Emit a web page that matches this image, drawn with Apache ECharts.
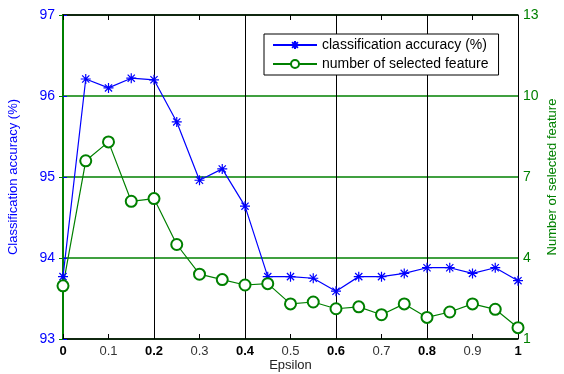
<!DOCTYPE html>
<html><head><meta charset="utf-8">
<script src="https://cdn.jsdelivr.net/npm/echarts@6/dist/echarts.min.js"></script>
<style>html,body{margin:0;padding:0;background:#fff}#c{width:564px;height:374px}</style>
</head><body><div id="c"></div>
<script>
var epsilon = [0,0.05,0.1,0.15,0.2,0.25,0.3,0.35,0.4,0.45,0.5,0.55,0.6,0.65,0.7,0.75,0.8,0.85,0.9,0.95,1];
var accuracy = [93.77,96.21,96.10,96.22,96.20,95.68,94.96,95.10,94.64,93.77,93.77,93.75,93.59,93.77,93.77,93.81,93.88,93.88,93.81,93.88,93.72];
var features = [2.97,7.6,8.3,6.1,6.2,4.5,3.4,3.2,3.0,3.05,2.3,2.37,2.12,2.19,1.9,2.3,1.8,2.0,2.3,2.1,1.42];
var seriesNames = ['classification accuracy (%)','number of selected feature'];
var FONT = '"Liberation Sans", Arial, sans-serif';
var BLUE = '#0000ff', GREEN = '#008000';
var star = 'path://M0,-1L0,1M-1,0L1,0M-0.72,-0.72L0.72,0.72M-0.72,0.72L0.72,-0.72';
var chart = echarts.init(document.getElementById('c'));
chart.setOption({
  animation:false,
  textStyle:{fontFamily:FONT},
  grid:{left:63,right:46,top:15,bottom:35,containLabel:false,outerBoundsMode:'none'},
  legend:{
    orient:'vertical', left:264, top:34,
    backgroundColor:'#fff', borderColor:'#000', borderWidth:1,
    padding:[4,10,4,8], itemGap:5, itemWidth:44, itemHeight:10,
    textStyle:{fontFamily:FONT,fontSize:14,color:'#000'},
    data:seriesNames
  },
  xAxis:[
    {type:'value',min:0,max:1,interval:0.1,position:'bottom',
     name:'Epsilon',nameLocation:'middle',nameGap:20,nameMoveOverlap:false,
     nameTextStyle:{fontFamily:FONT,fontSize:13,color:'#222'},
     axisLine:{lineStyle:{color:'#000',width:1.5}},
     axisTick:{inside:true,length:5,lineStyle:{color:'#000'}},
     splitLine:{show:false},
     axisLabel:{margin:6,fontSize:13,color:'#333',fontFamily:FONT,
       formatter:function(v){var k=Math.round(v*10);var s=(k===0)?'0':(k===10?'1':(k/10).toFixed(1));return (k%2===0)?'{b|'+s+'}':s;},
       rich:{b:{fontWeight:'bold',color:'#000',fontSize:13,fontFamily:FONT}}}},
    {type:'value',min:0,max:1,interval:0.1,position:'top',
     axisLine:{show:true,lineStyle:{color:'#000',width:1.5}},
     axisTick:{show:true,inside:true,length:5,lineStyle:{color:'#000'}},
     axisLabel:{show:false},splitLine:{show:false}},
    {type:'value',min:0,max:1,interval:0.2,position:'bottom',
     axisLine:{show:false},axisTick:{show:false},axisLabel:{show:false},
     splitLine:{show:true,lineStyle:{color:'#000',width:1}}}
  ],
  yAxis:[
    {type:'value',min:93,max:97,interval:1,position:'left',
     name:'Classification accuracy (%)',nameLocation:'middle',nameGap:43,nameMoveOverlap:false,
     nameTextStyle:{fontFamily:FONT,fontSize:13,color:BLUE},
     axisLine:{show:true,lineStyle:{color:GREEN,width:1.5}},
     axisTick:{show:true,inside:true,length:4,lineStyle:{color:BLUE}},
     axisLabel:{color:BLUE,fontSize:14,fontFamily:FONT,margin:8},
     splitLine:{show:false}},
    {type:'value',min:1,max:13,interval:3,position:'right',
     name:'Number of selected feature',nameLocation:'middle',nameGap:28,nameMoveOverlap:false,
     nameTextStyle:{fontFamily:FONT,fontSize:13,color:GREEN},
     axisLine:{show:true,lineStyle:{color:GREEN,width:2}},
     axisTick:{show:true,inside:true,length:4,lineStyle:{color:GREEN}},
     axisLabel:{color:GREEN,fontSize:14,fontFamily:FONT,margin:5},
     splitLine:{show:true,lineStyle:{color:GREEN,width:1.5}}}
  ],
  series:[
    {name:seriesNames[0],type:'line',xAxisIndex:0,yAxisIndex:0,
     data:epsilon.map(function(x,i){return [x,accuracy[i]];}),
     symbol:star,symbolSize:10,showSymbol:true,
     lineStyle:{color:BLUE,width:1.2},
     itemStyle:{color:BLUE,borderColor:BLUE,borderWidth:1.2},
     emphasis:{disabled:true},z:3},
    {name:seriesNames[1],type:'line',xAxisIndex:0,yAxisIndex:1,
     data:epsilon.map(function(x,i){return [x,features[i]];}),
     symbol:'emptyCircle',symbolSize:11,showSymbol:true,
     lineStyle:{color:GREEN,width:1.2},
     itemStyle:{color:GREEN,borderColor:GREEN,borderWidth:1},
     emphasis:{disabled:true},z:3}
  ]
});
</script></body></html>
